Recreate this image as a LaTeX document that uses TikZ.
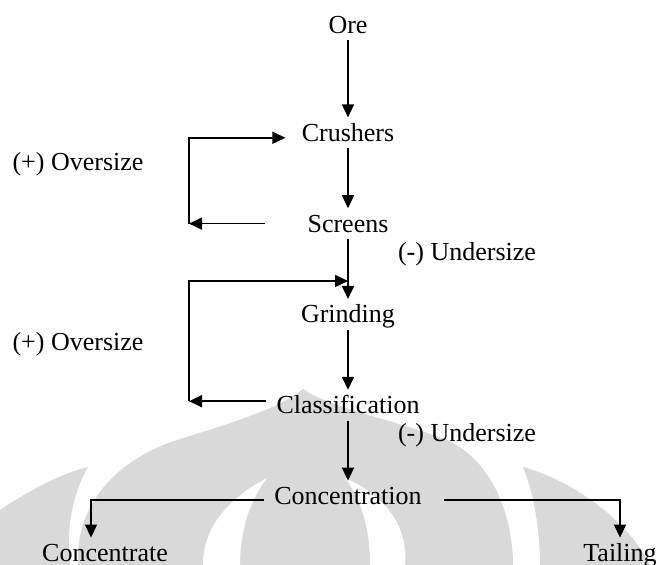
\documentclass[tikz,border=0pt]{standalone}
\usepackage{fontspec}
\setmainfont{Liberation Serif}
\usepackage{xcolor}
\definecolor{markgray}{HTML}{D9D9D9}
\usetikzlibrary{arrows.meta, positioning, calc}

\begin{document}
\begin{tikzpicture}[x=0.5pt, y=-0.5pt,
  stage/.style={font=\fontsize{13}{15}\selectfont, inner sep=0pt,
    minimum height=15pt, text height=8.6pt, text depth=0pt},
  flow/.style={-{Triangle[length=6.5pt, width=6pt]}, line width=0.8pt},
  branch/.style={flow, line width=0.6pt}
]
\useasboundingbox (0,0) rectangle (658,565);

% watermark
\fill[markgray] (0,510) .. controls (30,490) and (60,474) .. (88,467)
  .. controls (72,495) and (66,530) .. (70,565) -- (0,565) -- cycle;
\fill[markgray] (78,565) .. controls (75,510) and (110,462) .. (177,440)
  .. controls (235,422) and (280,408) .. (303,389)
  .. controls (330,408) and (395,420) .. (447,440)
  .. controls (495,462) and (513,520) .. (513,565) -- cycle;
\fill[white] (267,478) .. controls (225,500) and (203,530) .. (203,565)
  -- (240,565) .. controls (240,530) and (250,500) .. (267,478) -- cycle;
\fill[white] (345,478) .. controls (390,498) and (408,530) .. (405,565)
  -- (370,565) .. controls (370,530) and (362,500) .. (345,478) -- cycle;
\fill[markgray] (523,467) .. controls (565,478) and (625,515) .. (650,565)
  -- (540,565) .. controls (540,530) and (534,495) .. (523,467) -- cycle;

% process chain
\node[stage] (ore) at (348,25) {Ore};
\node[stage, below=38.5pt of ore] (crushers) {Crushers};
\node[stage, below=30pt of crushers] (screens) {Screens};
\node[stage, below=30pt of screens] (grinding) {Grinding};
\node[stage, below=30pt of grinding] (classif) {Classification};
\node[stage, below=30pt of classif] (concen) {Concentration};
\node[stage] (concentrate) at (105,553) {Concentrate};
\node[stage] (tailing) at (620,553) {Tailing};

\node[stage] (over1) at (78,162) {(+) Oversize};
\node[stage] (over2) at (78,342) {(+) Oversize};
\node[stage] (under1) at (467,252) {(-) Undersize};
\node[stage] (under2) at (467,433) {(-) Undersize};

\draw[flow] (ore) -- (crushers);
\draw[flow] (crushers) -- (screens);
\draw[flow] (screens) -- (grinding);
\draw[flow] (grinding) -- (classif);
\draw[flow] (classif) -- (concen);

% recycle loops
\coordinate (lane) at (189,0);
\coordinate (ret1) at (screens.west -| lane);
\draw[flow] ([xshift=-21pt]screens.west) -- (ret1);
\draw[flow] (ret1) |- ([xshift=-8pt, yshift=-2.5pt]crushers.west);

\coordinate (ret2) at ([yshift=2pt]classif.west -| lane);
\coordinate (join) at ($(screens.south)!0.7!(grinding.north)$);
\draw[flow] ([xshift=-5pt, yshift=2pt]classif.west) -- (ret2);
\draw[flow] (ret2) |- (join);

% products
\draw[branch] ([xshift=-5pt, yshift=-2pt]concen.west) -| ([xshift=-7pt]concentrate.north);
\draw[branch] ([xshift=11pt, yshift=-2pt]concen.east) -| (tailing.north);
\end{tikzpicture}
\end{document}
